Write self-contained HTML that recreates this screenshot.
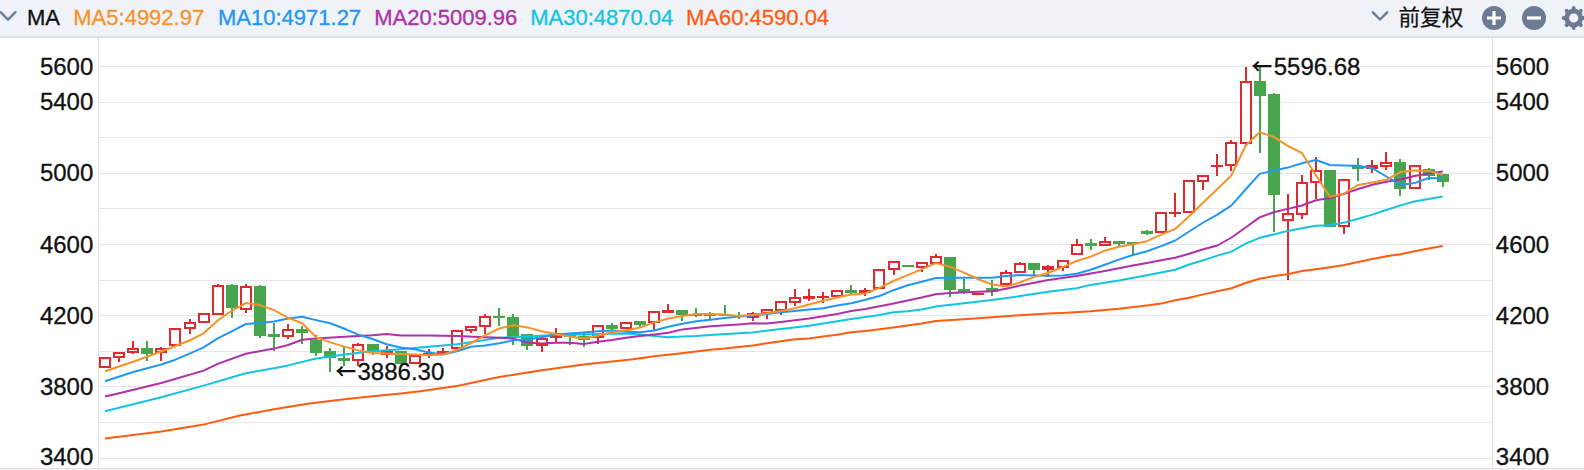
<!DOCTYPE html>
<html><head><meta charset="utf-8"><title>MA</title>
<style>
html,body{margin:0;padding:0;background:#fff;}
body{width:1584px;height:470px;overflow:hidden;position:relative;font-family:"Liberation Sans","Noto Sans CJK SC",sans-serif;}
#hdr{position:absolute;left:0;top:0;width:1584px;height:36px;background:#eff2f7;border-bottom:2px solid #e0e0e1;}
#hdr span{position:absolute;top:0.4px;-webkit-text-stroke:0.3px currentColor;line-height:36px;font-size:22px;white-space:nowrap;}
svg{position:absolute;left:0;top:0;}
.ax{font-family:"Liberation Sans",sans-serif;font-size:24px;fill:#111;stroke:#111;stroke-width:0.3px;}
.mk{font-family:"Liberation Sans",sans-serif;font-size:24px;fill:#111;stroke:#111;stroke-width:0.3px;}
tspan.ar{font-family:'Noto Sans CJK SC',sans-serif;font-weight:700;font-size:21px;stroke:none;}
#bot{position:absolute;left:0;top:468px;width:1584px;height:2px;background:#eff1f6;border-top:1px solid #e4e5e8;box-sizing:border-box;}
</style></head><body>
<div id="hdr">
<span style="left:27px;color:#111;">MA</span>
<span style="left:73.3px;color:#f5922a;">MA5:4992.97</span>
<span style="left:218px;color:#2196f3;">MA10:4971.27</span>
<span style="left:374.2px;color:#b030a8;">MA20:5009.96</span>
<span style="left:530.2px;color:#12c4e0;">MA30:4870.04</span>
<span style="left:686px;color:#ff5c10;">MA60:4590.04</span>
<span style="left:1398.5px;top:0.2px;color:#111;font-size:21.6px;font-weight:400;-webkit-text-stroke:0.25px #111;font-family:'Liberation Sans','Noto Sans CJK SC',sans-serif;">前复权</span>
</div>
<div id="bot"></div>
<svg width="1584" height="470" viewBox="0 0 1584 470">
<!-- header icons -->
<polyline points="0.6,12.2 8,19.6 15.4,12.2" fill="none" stroke="#6c7a93" stroke-width="2.4" stroke-linecap="round" stroke-linejoin="round"/>
<polyline points="1372.8,12.3 1380,19.5 1387.2,12.3" fill="none" stroke="#6c7a93" stroke-width="2.4" stroke-linecap="round" stroke-linejoin="round"/>
<circle cx="1494" cy="18" r="12" fill="#6c7a93"/>
<path d="M1487 18h14M1494 11v14" stroke="#fff" stroke-width="3.2" fill="none"/>
<circle cx="1534" cy="18" r="12" fill="#6c7a93"/>
<path d="M1527 18h14" stroke="#fff" stroke-width="3.2" fill="none"/>
<g id="gear"><g stroke="#6c7a93" stroke-width="3.8" stroke-linecap="round">
<line x1="1563.60" y1="18.00" x2="1583.80" y2="18.00"/>
<line x1="1566.56" y1="10.86" x2="1580.84" y2="25.14"/>
<line x1="1573.70" y1="7.90" x2="1573.70" y2="28.10"/>
<line x1="1580.84" y1="10.86" x2="1566.56" y2="25.14"/>
</g><circle cx="1573.7" cy="18.0" r="7" fill="#eff2f7" stroke="#6c7a93" stroke-width="4.8"/></g>
<!-- axes -->
<rect x="99" y="66" width="1393" height="1" fill="#e6e6e6"/>
<rect x="99" y="102" width="1393" height="1" fill="#e6e6e6"/>
<rect x="99" y="137" width="1393" height="1" fill="#e6e6e6"/>
<rect x="99" y="173" width="1393" height="1" fill="#e6e6e6"/>
<rect x="99" y="208" width="1393" height="1" fill="#e6e6e6"/>
<rect x="99" y="244" width="1393" height="1" fill="#e6e6e6"/>
<rect x="99" y="280" width="1393" height="1" fill="#e6e6e6"/>
<rect x="99" y="315" width="1393" height="1" fill="#e6e6e6"/>
<rect x="99" y="351" width="1393" height="1" fill="#e6e6e6"/>
<rect x="99" y="386" width="1393" height="1" fill="#e6e6e6"/>
<rect x="99" y="422" width="1393" height="1" fill="#e6e6e6"/>
<rect x="99" y="458" width="1393" height="1" fill="#e6e6e6"/>
<rect x="98" y="38" width="1" height="429" fill="#dddddd"/>
<rect x="1492" y="38" width="1" height="429" fill="#dddddd"/>
<text x="93.3" y="74.75" text-anchor="end" class="ax">5600</text>
<text x="1495.8" y="74.75" text-anchor="start" class="ax">5600</text>
<text x="93.3" y="109.85" text-anchor="end" class="ax">5400</text>
<text x="1495.8" y="109.85" text-anchor="start" class="ax">5400</text>
<text x="93.3" y="180.65" text-anchor="end" class="ax">5000</text>
<text x="1495.8" y="180.65" text-anchor="start" class="ax">5000</text>
<text x="93.3" y="252.75" text-anchor="end" class="ax">4600</text>
<text x="1495.8" y="252.75" text-anchor="start" class="ax">4600</text>
<text x="93.3" y="323.75" text-anchor="end" class="ax">4200</text>
<text x="1495.8" y="323.75" text-anchor="start" class="ax">4200</text>
<text x="93.3" y="394.75" text-anchor="end" class="ax">3800</text>
<text x="1495.8" y="394.75" text-anchor="start" class="ax">3800</text>
<text x="93.3" y="465.35" text-anchor="end" class="ax">3400</text>
<text x="1495.8" y="465.35" text-anchor="start" class="ax">3400</text>

<!-- candles -->
<clipPath id="pc"><rect x="99" y="38" width="1393" height="429"/></clipPath>
<g clip-path="url(#pc)">
<rect x="100" y="358" width="10" height="9" fill="#fff" stroke="#e02a30" stroke-width="2"/>
<rect x="118" y="358" width="2" height="4" fill="#e02a30"/>
<rect x="114" y="353" width="10" height="4" fill="#fff" stroke="#e02a30" stroke-width="2"/>
<rect x="132" y="341" width="2" height="7" fill="#e02a30"/>
<rect x="132" y="353" width="2" height="1" fill="#e02a30"/>
<rect x="128" y="349" width="10" height="3" fill="#fff" stroke="#e02a30" stroke-width="2"/>
<rect x="146" y="341" width="2" height="20" fill="#47a54e"/>
<rect x="141" y="348" width="12" height="6" fill="#47a54e"/>
<rect x="160" y="347" width="2" height="1" fill="#e02a30"/>
<rect x="160" y="353" width="2" height="8" fill="#e02a30"/>
<rect x="156" y="349" width="10" height="3" fill="#fff" stroke="#e02a30" stroke-width="2"/>
<rect x="170" y="329" width="10" height="16" fill="#fff" stroke="#e02a30" stroke-width="2"/>
<rect x="189" y="319" width="2" height="3" fill="#e02a30"/>
<rect x="189" y="329" width="2" height="5" fill="#e02a30"/>
<rect x="185" y="323" width="10" height="5" fill="#fff" stroke="#e02a30" stroke-width="2"/>
<rect x="199" y="314" width="10" height="8" fill="#fff" stroke="#e02a30" stroke-width="2"/>
<rect x="217" y="284" width="2" height="1" fill="#e02a30"/>
<rect x="213" y="286" width="10" height="28" fill="#fff" stroke="#e02a30" stroke-width="2"/>
<rect x="231" y="284" width="2" height="34" fill="#47a54e"/>
<rect x="226" y="285" width="12" height="23" fill="#47a54e"/>
<rect x="245" y="284" width="2" height="2" fill="#e02a30"/>
<rect x="245" y="310" width="2" height="3" fill="#e02a30"/>
<rect x="241" y="287" width="10" height="22" fill="#fff" stroke="#e02a30" stroke-width="2"/>
<rect x="259" y="285" width="2" height="53" fill="#47a54e"/>
<rect x="254" y="286" width="12" height="50" fill="#47a54e"/>
<rect x="273" y="323" width="2" height="28" fill="#47a54e"/>
<rect x="268" y="334" width="12" height="3" fill="#47a54e"/>
<rect x="287" y="324" width="2" height="5" fill="#e02a30"/>
<rect x="287" y="337" width="2" height="2" fill="#e02a30"/>
<rect x="283" y="330" width="10" height="6" fill="#fff" stroke="#e02a30" stroke-width="2"/>
<rect x="301" y="326" width="2" height="18" fill="#47a54e"/>
<rect x="296" y="329" width="12" height="4" fill="#47a54e"/>
<rect x="315" y="335" width="2" height="21" fill="#47a54e"/>
<rect x="310" y="340" width="12" height="13" fill="#47a54e"/>
<rect x="329" y="348" width="2" height="24" fill="#47a54e"/>
<rect x="324" y="351" width="12" height="7" fill="#47a54e"/>
<rect x="343" y="347" width="2" height="19" fill="#47a54e"/>
<rect x="338" y="358" width="12" height="3" fill="#47a54e"/>
<rect x="357" y="343" width="2" height="1" fill="#e02a30"/>
<rect x="357" y="361" width="2" height="5" fill="#e02a30"/>
<rect x="353" y="345" width="10" height="15" fill="#fff" stroke="#e02a30" stroke-width="2"/>
<rect x="372" y="344" width="2" height="11" fill="#47a54e"/>
<rect x="367" y="344" width="12" height="8" fill="#47a54e"/>
<rect x="386" y="346" width="2" height="5" fill="#e02a30"/>
<rect x="386" y="355" width="2" height="3" fill="#e02a30"/>
<rect x="381" y="351" width="12" height="4" fill="#e02a30"/>
<rect x="400" y="351" width="2" height="13" fill="#47a54e"/>
<rect x="395" y="351" width="12" height="13" fill="#47a54e"/>
<rect x="410" y="356" width="10" height="7" fill="#fff" stroke="#e02a30" stroke-width="2"/>
<rect x="428" y="349" width="2" height="4" fill="#e02a30"/>
<rect x="428" y="355" width="2" height="3" fill="#e02a30"/>
<rect x="423" y="353" width="12" height="2" fill="#e02a30"/>
<rect x="442" y="348" width="2" height="3" fill="#e02a30"/>
<rect x="437" y="351" width="12" height="3" fill="#e02a30"/>
<rect x="452" y="331" width="10" height="17" fill="#fff" stroke="#e02a30" stroke-width="2"/>
<rect x="470" y="331" width="2" height="2" fill="#e02a30"/>
<rect x="466" y="327" width="10" height="3" fill="#fff" stroke="#e02a30" stroke-width="2"/>
<rect x="484" y="314" width="2" height="2" fill="#e02a30"/>
<rect x="484" y="327" width="2" height="7" fill="#e02a30"/>
<rect x="480" y="317" width="10" height="9" fill="#fff" stroke="#e02a30" stroke-width="2"/>
<rect x="498" y="308" width="2" height="18" fill="#47a54e"/>
<rect x="493" y="316" width="12" height="2" fill="#47a54e"/>
<rect x="512" y="314" width="2" height="31" fill="#47a54e"/>
<rect x="507" y="317" width="12" height="20" fill="#47a54e"/>
<rect x="526" y="334" width="2" height="16" fill="#47a54e"/>
<rect x="521" y="334" width="12" height="12" fill="#47a54e"/>
<rect x="541" y="346" width="2" height="6" fill="#e02a30"/>
<rect x="537" y="339" width="10" height="6" fill="#fff" stroke="#e02a30" stroke-width="2"/>
<rect x="555" y="328" width="2" height="5" fill="#e02a30"/>
<rect x="555" y="338" width="2" height="4" fill="#e02a30"/>
<rect x="551" y="334" width="10" height="3" fill="#fff" stroke="#e02a30" stroke-width="2"/>
<rect x="569" y="333" width="2" height="12" fill="#47a54e"/>
<rect x="564" y="333" width="12" height="4" fill="#47a54e"/>
<rect x="583" y="333" width="2" height="14" fill="#47a54e"/>
<rect x="578" y="336" width="12" height="4" fill="#47a54e"/>
<rect x="597" y="338" width="2" height="6" fill="#e02a30"/>
<rect x="593" y="326" width="10" height="11" fill="#fff" stroke="#e02a30" stroke-width="2"/>
<rect x="611" y="323" width="2" height="7" fill="#47a54e"/>
<rect x="606" y="325" width="12" height="4" fill="#47a54e"/>
<rect x="621" y="323" width="10" height="5" fill="#fff" stroke="#e02a30" stroke-width="2"/>
<rect x="639" y="321" width="2" height="6" fill="#47a54e"/>
<rect x="634" y="321" width="12" height="4" fill="#47a54e"/>
<rect x="653" y="323" width="2" height="8" fill="#e02a30"/>
<rect x="649" y="312" width="10" height="10" fill="#fff" stroke="#e02a30" stroke-width="2"/>
<rect x="667" y="304" width="2" height="6" fill="#e02a30"/>
<rect x="662" y="310" width="12" height="3" fill="#e02a30"/>
<rect x="681" y="310" width="2" height="11" fill="#47a54e"/>
<rect x="676" y="310" width="12" height="5" fill="#47a54e"/>
<rect x="695" y="308" width="2" height="9" fill="#47a54e"/>
<rect x="690" y="314" width="12" height="2" fill="#47a54e"/>
<rect x="709" y="312" width="2" height="7" fill="#47a54e"/>
<rect x="704" y="314" width="12" height="2" fill="#47a54e"/>
<rect x="724" y="305" width="2" height="11" fill="#47a54e"/>
<rect x="719" y="314" width="12" height="2" fill="#47a54e"/>
<rect x="738" y="312" width="2" height="7" fill="#47a54e"/>
<rect x="733" y="315" width="12" height="2" fill="#47a54e"/>
<rect x="752" y="312" width="2" height="1" fill="#e02a30"/>
<rect x="752" y="318" width="2" height="3" fill="#e02a30"/>
<rect x="748" y="314" width="10" height="3" fill="#fff" stroke="#e02a30" stroke-width="2"/>
<rect x="766" y="314" width="2" height="5" fill="#e02a30"/>
<rect x="762" y="310" width="10" height="3" fill="#fff" stroke="#e02a30" stroke-width="2"/>
<rect x="780" y="311" width="2" height="4" fill="#e02a30"/>
<rect x="776" y="302" width="10" height="8" fill="#fff" stroke="#e02a30" stroke-width="2"/>
<rect x="794" y="289" width="2" height="8" fill="#e02a30"/>
<rect x="794" y="303" width="2" height="3" fill="#e02a30"/>
<rect x="790" y="298" width="10" height="4" fill="#fff" stroke="#e02a30" stroke-width="2"/>
<rect x="808" y="289" width="2" height="7" fill="#e02a30"/>
<rect x="808" y="299" width="2" height="2" fill="#e02a30"/>
<rect x="803" y="296" width="12" height="3" fill="#e02a30"/>
<rect x="822" y="292" width="2" height="4" fill="#e02a30"/>
<rect x="822" y="298" width="2" height="5" fill="#e02a30"/>
<rect x="817" y="296" width="12" height="2" fill="#e02a30"/>
<rect x="832" y="291" width="10" height="5" fill="#fff" stroke="#e02a30" stroke-width="2"/>
<rect x="850" y="285" width="2" height="10" fill="#47a54e"/>
<rect x="845" y="290" width="12" height="3" fill="#47a54e"/>
<rect x="864" y="288" width="2" height="2" fill="#e02a30"/>
<rect x="864" y="293" width="2" height="3" fill="#e02a30"/>
<rect x="859" y="290" width="12" height="3" fill="#e02a30"/>
<rect x="874" y="270" width="10" height="18" fill="#fff" stroke="#e02a30" stroke-width="2"/>
<rect x="893" y="270" width="2" height="5" fill="#e02a30"/>
<rect x="889" y="262" width="10" height="7" fill="#fff" stroke="#e02a30" stroke-width="2"/>
<rect x="907" y="265" width="2" height="2" fill="#47a54e"/>
<rect x="902" y="265" width="12" height="2" fill="#47a54e"/>
<rect x="921" y="268" width="2" height="4" fill="#e02a30"/>
<rect x="917" y="263" width="10" height="4" fill="#fff" stroke="#e02a30" stroke-width="2"/>
<rect x="935" y="254" width="2" height="2" fill="#e02a30"/>
<rect x="931" y="257" width="10" height="6" fill="#fff" stroke="#e02a30" stroke-width="2"/>
<rect x="949" y="257" width="2" height="40" fill="#47a54e"/>
<rect x="944" y="257" width="12" height="33" fill="#47a54e"/>
<rect x="963" y="279" width="2" height="15" fill="#47a54e"/>
<rect x="958" y="289" width="12" height="3" fill="#47a54e"/>
<rect x="972" y="293" width="12" height="2" fill="#e02a30"/>
<rect x="991" y="280" width="2" height="16" fill="#47a54e"/>
<rect x="986" y="288" width="12" height="4" fill="#47a54e"/>
<rect x="1005" y="270" width="2" height="2" fill="#e02a30"/>
<rect x="1001" y="273" width="10" height="11" fill="#fff" stroke="#e02a30" stroke-width="2"/>
<rect x="1019" y="262" width="2" height="1" fill="#e02a30"/>
<rect x="1015" y="264" width="10" height="8" fill="#fff" stroke="#e02a30" stroke-width="2"/>
<rect x="1033" y="263" width="2" height="12" fill="#47a54e"/>
<rect x="1028" y="263" width="12" height="7" fill="#47a54e"/>
<rect x="1047" y="265" width="2" height="1" fill="#e02a30"/>
<rect x="1047" y="270" width="2" height="7" fill="#e02a30"/>
<rect x="1042" y="266" width="12" height="4" fill="#e02a30"/>
<rect x="1062" y="268" width="2" height="3" fill="#e02a30"/>
<rect x="1058" y="261" width="10" height="6" fill="#fff" stroke="#e02a30" stroke-width="2"/>
<rect x="1076" y="239" width="2" height="5" fill="#e02a30"/>
<rect x="1072" y="245" width="10" height="9" fill="#fff" stroke="#e02a30" stroke-width="2"/>
<rect x="1090" y="239" width="2" height="11" fill="#47a54e"/>
<rect x="1085" y="243" width="12" height="3" fill="#47a54e"/>
<rect x="1104" y="237" width="2" height="4" fill="#e02a30"/>
<rect x="1100" y="242" width="10" height="3" fill="#fff" stroke="#e02a30" stroke-width="2"/>
<rect x="1118" y="241" width="2" height="6" fill="#47a54e"/>
<rect x="1113" y="241" width="12" height="3" fill="#47a54e"/>
<rect x="1132" y="242" width="2" height="12" fill="#47a54e"/>
<rect x="1127" y="242" width="12" height="2" fill="#47a54e"/>
<rect x="1146" y="230" width="2" height="5" fill="#47a54e"/>
<rect x="1141" y="231" width="12" height="3" fill="#47a54e"/>
<rect x="1156" y="213" width="10" height="19" fill="#fff" stroke="#e02a30" stroke-width="2"/>
<rect x="1174" y="193" width="2" height="19" fill="#e02a30"/>
<rect x="1174" y="214" width="2" height="3" fill="#e02a30"/>
<rect x="1169" y="212" width="12" height="2" fill="#e02a30"/>
<rect x="1184" y="181" width="10" height="31" fill="#fff" stroke="#e02a30" stroke-width="2"/>
<rect x="1202" y="182" width="2" height="8" fill="#e02a30"/>
<rect x="1198" y="176" width="10" height="5" fill="#fff" stroke="#e02a30" stroke-width="2"/>
<rect x="1216" y="154" width="2" height="11" fill="#e02a30"/>
<rect x="1216" y="167" width="2" height="9" fill="#e02a30"/>
<rect x="1211" y="165" width="12" height="2" fill="#e02a30"/>
<rect x="1230" y="140" width="2" height="2" fill="#e02a30"/>
<rect x="1230" y="166" width="2" height="5" fill="#e02a30"/>
<rect x="1226" y="143" width="10" height="22" fill="#fff" stroke="#e02a30" stroke-width="2"/>
<rect x="1245" y="67" width="2" height="14" fill="#e02a30"/>
<rect x="1245" y="144" width="2" height="2" fill="#e02a30"/>
<rect x="1241" y="82" width="10" height="61" fill="#fff" stroke="#e02a30" stroke-width="2"/>
<rect x="1259" y="67" width="2" height="86" fill="#47a54e"/>
<rect x="1254" y="81" width="12" height="15" fill="#47a54e"/>
<rect x="1273" y="93" width="2" height="139" fill="#47a54e"/>
<rect x="1268" y="94" width="12" height="101" fill="#47a54e"/>
<rect x="1287" y="194" width="2" height="19" fill="#e02a30"/>
<rect x="1287" y="221" width="2" height="59" fill="#e02a30"/>
<rect x="1283" y="214" width="10" height="6" fill="#fff" stroke="#e02a30" stroke-width="2"/>
<rect x="1301" y="175" width="2" height="7" fill="#e02a30"/>
<rect x="1301" y="215" width="2" height="4" fill="#e02a30"/>
<rect x="1297" y="183" width="10" height="31" fill="#fff" stroke="#e02a30" stroke-width="2"/>
<rect x="1315" y="157" width="2" height="13" fill="#e02a30"/>
<rect x="1315" y="183" width="2" height="16" fill="#e02a30"/>
<rect x="1311" y="171" width="10" height="11" fill="#fff" stroke="#e02a30" stroke-width="2"/>
<rect x="1329" y="170" width="2" height="57" fill="#47a54e"/>
<rect x="1324" y="170" width="12" height="57" fill="#47a54e"/>
<rect x="1343" y="227" width="2" height="7" fill="#e02a30"/>
<rect x="1339" y="180" width="10" height="46" fill="#fff" stroke="#e02a30" stroke-width="2"/>
<rect x="1357" y="158" width="2" height="23" fill="#47a54e"/>
<rect x="1352" y="166" width="12" height="3" fill="#47a54e"/>
<rect x="1371" y="160" width="2" height="5" fill="#e02a30"/>
<rect x="1371" y="169" width="2" height="4" fill="#e02a30"/>
<rect x="1366" y="165" width="12" height="4" fill="#e02a30"/>
<rect x="1385" y="152" width="2" height="10" fill="#e02a30"/>
<rect x="1385" y="167" width="2" height="3" fill="#e02a30"/>
<rect x="1381" y="163" width="10" height="3" fill="#fff" stroke="#e02a30" stroke-width="2"/>
<rect x="1399" y="159" width="2" height="37" fill="#47a54e"/>
<rect x="1394" y="162" width="12" height="27" fill="#47a54e"/>
<rect x="1410" y="166" width="10" height="22" fill="#fff" stroke="#e02a30" stroke-width="2"/>
<rect x="1428" y="168" width="2" height="12" fill="#47a54e"/>
<rect x="1423" y="169" width="12" height="7" fill="#47a54e"/>
<rect x="1442" y="175" width="2" height="12" fill="#47a54e"/>
<rect x="1437" y="174" width="12" height="8" fill="#47a54e"/>
</g>
<!-- MA lines -->
<polyline points="105.0,438.6 161.3,431.5 203.6,424.6 238.8,415.7 274.0,409.3 307.8,403.8 344.4,399.2 372.6,396.3 400.7,393.6 420.4,391.3 443.0,388.0 457.0,385.9 499.3,377.0 527.4,372.6 547.2,369.4 583.8,364.6 597.8,362.9 633.0,359.2 654.2,356.2 679.5,353.6 710.5,349.8 724.6,348.6 738.7,346.9 752.7,345.4 766.8,343.3 780.9,341.3 795.0,339.3 809.1,338.4 823.1,336.6 837.2,334.7 851.3,332.3 865.4,331.0 879.5,329.2 893.5,327.5 907.6,325.5 921.7,323.5 935.8,321.1 963.9,319.3 992.1,317.3 1020.3,315.2 1048.4,313.6 1062.5,313.0 1090.7,311.2 1118.8,308.7 1147.0,305.4 1161.1,303.6 1175.2,300.2 1189.2,297.7 1203.3,294.4 1217.4,291.3 1231.5,288.2 1245.6,283.0 1259.6,278.7 1273.7,276.1 1287.8,274.3 1301.9,271.0 1316.0,269.2 1330.0,267.2 1344.1,265.1 1358.2,262.1 1372.3,259.0 1386.4,256.2 1400.5,254.2 1414.5,251.2 1428.6,248.6 1442.7,246.0" fill="none" stroke="#ff5c10" stroke-width="2.0" stroke-linejoin="round" stroke-linecap="butt"/>
<polyline points="105.0,411.3 161.3,397.3 203.6,385.6 245.8,373.3 274.0,368.2 288.1,365.4 316.2,358.5 344.4,354.4 372.6,351.3 400.7,349.3 428.9,346.7 457.0,344.2 485.2,339.9 499.3,337.7 527.4,336.4 555.6,335.1 583.8,334.4 611.9,333.8 626.0,333.5 640.1,334.5 654.2,336.0 668.3,337.3 682.3,336.6 696.4,336.0 710.5,335.0 738.7,333.2 752.7,332.5 780.9,328.9 809.1,325.7 823.1,323.5 837.2,321.3 851.3,319.1 865.4,317.0 879.5,315.1 893.5,312.3 907.6,311.2 921.7,309.4 935.8,306.6 963.9,303.2 992.1,299.9 1020.3,296.1 1048.4,291.8 1062.5,290.0 1076.6,288.2 1090.7,284.9 1118.8,280.5 1147.0,275.3 1175.2,269.7 1189.2,264.5 1203.3,260.3 1217.4,255.6 1231.5,251.6 1245.6,243.7 1259.6,237.8 1273.7,234.5 1287.8,230.9 1301.9,228.3 1316.0,225.8 1330.0,225.2 1344.1,222.6 1358.2,218.8 1372.3,214.6 1386.4,210.0 1400.5,205.4 1414.5,201.5 1428.6,199.0 1442.7,196.4" fill="none" stroke="#12c4e0" stroke-width="2.0" stroke-linejoin="round" stroke-linecap="butt"/>
<polyline points="105.0,396.5 119.1,393.2 161.3,383.0 203.6,370.6 217.7,363.9 245.8,353.7 274.0,348.6 288.1,345.0 302.2,339.8 316.2,338.5 344.4,336.7 372.6,335.2 386.6,333.9 400.7,335.5 428.9,335.5 457.0,336.0 485.2,337.3 499.3,337.7 513.4,338.5 527.4,342.6 541.5,343.4 555.6,342.8 569.7,342.8 583.8,343.9 597.8,341.8 611.9,340.0 626.0,337.7 640.1,335.9 654.2,334.4 668.3,332.8 682.3,329.4 710.5,326.3 738.7,324.4 752.7,323.3 766.8,323.5 780.9,322.0 795.0,320.2 809.1,318.5 823.1,316.2 837.2,314.0 851.3,311.1 865.4,308.9 879.5,306.3 893.5,303.4 907.6,300.5 921.7,297.5 935.8,294.3 949.9,293.0 978.0,291.7 992.1,291.2 1006.2,288.7 1020.3,285.4 1034.4,282.8 1048.4,280.0 1076.6,276.0 1090.7,273.5 1104.8,271.0 1118.8,268.3 1132.9,265.6 1147.0,262.9 1161.1,260.3 1175.2,257.8 1189.2,253.7 1203.3,249.2 1217.4,245.5 1231.5,237.5 1245.6,227.5 1259.6,217.4 1273.7,212.3 1287.8,208.9 1301.9,205.5 1316.0,200.2 1330.0,198.0 1344.1,193.9 1358.2,189.0 1372.3,184.8 1386.4,181.7 1400.5,179.5 1414.5,176.0 1428.6,173.4 1442.7,171.4" fill="none" stroke="#b030a8" stroke-width="2.0" stroke-linejoin="round" stroke-linecap="butt"/>
<polyline points="105.0,381.2 133.2,372.0 161.3,364.5 175.4,359.7 189.5,353.7 203.6,347.3 217.7,338.4 231.7,331.3 245.8,324.0 259.9,323.0 274.0,321.5 288.1,318.5 302.2,316.8 316.2,320.1 330.3,323.2 344.4,328.8 358.5,334.7 372.6,339.0 386.6,344.2 400.7,347.5 414.8,349.3 428.9,352.6 443.0,354.4 457.0,351.3 471.1,346.7 485.2,345.6 499.3,343.2 513.4,340.2 527.4,339.5 541.5,337.3 555.6,334.5 569.7,333.5 583.8,332.4 597.8,331.2 611.9,330.5 626.0,331.8 640.1,332.3 654.2,330.5 668.3,326.8 682.3,323.8 696.4,321.2 710.5,319.7 724.6,317.9 738.7,316.6 752.7,315.4 766.8,314.1 780.9,312.3 795.0,311.0 809.1,309.5 823.1,308.2 837.2,305.5 851.3,303.2 865.4,299.8 879.5,296.0 893.5,290.2 907.6,285.2 921.7,281.7 935.8,278.0 949.9,277.7 963.9,277.7 978.0,277.7 992.1,277.7 1006.2,275.9 1020.3,275.1 1034.4,275.6 1048.4,275.8 1062.5,275.5 1076.6,273.7 1090.7,269.8 1104.8,264.7 1118.8,259.6 1132.9,255.0 1147.0,251.2 1161.1,246.1 1175.2,240.5 1189.2,231.5 1203.3,222.5 1217.4,214.6 1231.5,205.4 1245.6,189.5 1259.6,173.9 1273.7,170.6 1287.8,167.6 1301.9,163.2 1316.0,160.0 1330.0,165.0 1344.1,165.4 1358.2,165.8 1372.3,168.2 1386.4,176.5 1400.5,184.9 1414.5,183.1 1428.6,178.0 1442.7,178.5" fill="none" stroke="#2196f3" stroke-width="2.0" stroke-linejoin="round" stroke-linecap="butt"/>
<polyline points="105.0,371.3 133.2,361.8 161.3,351.5 175.4,346.0 189.5,340.5 203.6,333.3 217.7,320.5 231.7,310.8 245.8,303.1 259.9,305.1 274.0,310.0 288.1,317.9 302.2,323.2 316.2,337.3 330.3,342.4 344.4,346.6 358.5,350.4 372.6,353.0 386.6,353.6 400.7,354.1 414.8,354.4 428.9,355.2 443.0,354.6 457.0,350.0 471.1,343.0 485.2,335.4 499.3,328.5 513.4,325.2 527.4,327.4 541.5,331.2 555.6,334.0 569.7,336.5 583.8,338.5 597.8,335.7 611.9,332.3 626.0,330.5 640.1,327.5 654.2,322.4 668.3,318.5 682.3,316.1 696.4,314.1 710.5,314.1 724.6,314.6 738.7,315.9 752.7,314.8 766.8,313.3 780.9,311.0 795.0,308.2 809.1,304.5 823.1,300.8 837.2,297.5 851.3,294.6 865.4,293.4 879.5,287.9 893.5,281.0 907.6,275.1 921.7,269.3 935.8,263.1 949.9,266.7 963.9,272.6 978.0,279.0 992.1,284.6 1006.2,286.6 1020.3,282.3 1034.4,276.9 1048.4,272.8 1062.5,267.2 1076.6,261.0 1090.7,256.6 1104.8,250.7 1118.8,246.8 1132.9,244.3 1147.0,241.2 1161.1,234.6 1175.2,229.0 1189.2,216.2 1203.3,202.5 1217.4,189.0 1231.5,175.3 1245.6,145.8 1259.6,132.2 1273.7,136.8 1287.8,145.8 1301.9,153.0 1316.0,175.5 1330.0,196.9 1344.1,193.5 1358.2,184.9 1372.3,182.4 1386.4,179.8 1400.5,172.1 1414.5,170.4 1428.6,170.9 1442.7,174.7" fill="none" stroke="#f5922a" stroke-width="2.0" stroke-linejoin="round" stroke-linecap="butt"/>
<!-- markers -->
<text y="75.3" class="mk"><tspan x="1251.3" dy="-1.5" class="ar">←</tspan><tspan x="1273.7" dy="1.5">5596.68</tspan></text>
<text y="380" class="mk"><tspan x="335.2" dy="-1.5" class="ar">←</tspan><tspan x="357.5" dy="1.5">3886.30</tspan></text>
</svg>
</body></html>
